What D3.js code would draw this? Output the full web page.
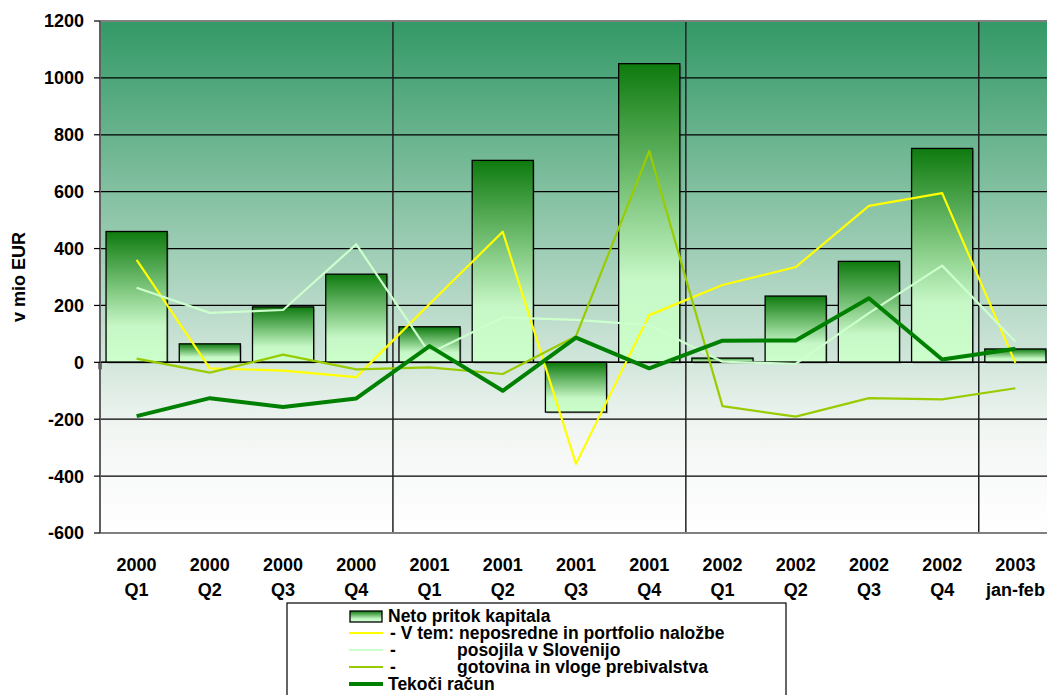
<!DOCTYPE html>
<html>
<head>
<meta charset="utf-8">
<script src="https://cdn.jsdelivr.net/npm/d3@7"></script>
<style>
  body { margin: 0; background: #fff; }
  text { font-family: "Liberation Sans", Arial, sans-serif; font-weight: bold; fill: #000; }
</style>
</head>
<body>
<svg id="chart" width="1047" height="695"></svg>
<script>
// categories (two-line labels)
var years = ["2000", "2000", "2000", "2000", "2001", "2001", "2001", "2001", "2002", "2002", "2002", "2002", "2003"];
var periods = ["Q1", "Q2", "Q3", "Q4", "Q1", "Q2", "Q3", "Q4", "Q1", "Q2", "Q3", "Q4", "jan-feb"];

// series, mio EUR
var netoPritok = [460, 65, 195, 310, 125, 710, -175, 1050, 15, 233, 355, 752, 47];
var neposredne = [360, -21, -29, -52, 205, 459, -357, 166, 272, 335, 550, 595, -2];
var posojila = [262, 174, 184, 415, 32, 158, 149, 131, 2, -5, 173, 340, 72];
var gotovina = [13, -36, 27, -25, -18, -41, 92, 743, -154, -191, -126, -130, -91];
var tekoci = [-189, -126, -157, -127, 57, -100, 87, -21, 76, 77, 225, 10, 48];

var yTicks = [-600, -400, -200, 0, 200, 400, 600, 800, 1000, 1200];
var yearBreaks = [4, 8, 12];

var svg = d3.select("#chart");
var plotL = 100, plotR = 1052, plotT = 21, plotB = 533;
var keys = years.map(function(d, i) { return i; });

var x = d3.scaleBand().domain(keys).range([plotL, plotR]).paddingInner(0.165).paddingOuter(0.0825);
var y = d3.scaleLinear().domain([-600, 1200]).range([plotB, plotT]);

var defs = svg.append("defs");
var bg = defs.append("linearGradient").attr("id", "bgGrad").attr("x1", 0).attr("y1", 0).attr("x2", 0).attr("y2", 1);
bg.append("stop").attr("offset", "0").attr("stop-color", "#339966");
bg.append("stop").attr("offset", "0.8").attr("stop-color", "#f2f6f3");
bg.append("stop").attr("offset", "1").attr("stop-color", "#ffffff");

var barGrad = defs.append("linearGradient").attr("id", "barGrad").attr("x1", 0).attr("y1", 0).attr("x2", 0).attr("y2", 1);
barGrad.append("stop").attr("offset", "0").attr("stop-color", "#0e7a0e");
barGrad.append("stop").attr("offset", "0.72").attr("stop-color", "#c6f7c6");
barGrad.append("stop").attr("offset", "1").attr("stop-color", "#ccffcc");

// plot area
svg.append("rect").attr("x", plotL).attr("y", plotT).attr("width", plotR - plotL).attr("height", plotB - plotT)
  .attr("fill", "url(#bgGrad)");

// horizontal grid
svg.append("g").selectAll("line").data(yTicks.filter(function(d) { return d > -600 && d < 1200; }))
  .join("line")
  .attr("x1", plotL).attr("x2", plotR)
  .attr("y1", function(d) { return y(d); }).attr("y2", function(d) { return y(d); })
  .attr("stroke", "#000").attr("stroke-width", 1.2);

// vertical year separators
svg.append("g").selectAll("line").data(yearBreaks).join("line")
  .attr("x1", function(d) { return plotL + d * x.step(); }).attr("x2", function(d) { return plotL + d * x.step(); })
  .attr("y1", plotT).attr("y2", plotB)
  .attr("stroke", "#222").attr("stroke-width", 1.5);

// plot border top / bottom
svg.append("line").attr("x1", plotL).attr("x2", plotR).attr("y1", plotT).attr("y2", plotT).attr("stroke", "#808080").attr("stroke-width", 2);
svg.append("line").attr("x1", plotL).attr("x2", plotR).attr("y1", plotB).attr("y2", plotB).attr("stroke", "#808080").attr("stroke-width", 2);

// bars
var bars = svg.append("g");
bars.selectAll("rect.shadow").data(netoPritok).join("rect").attr("class", "shadow")
  .attr("x", function(d, i) { return x(i) + 1.5; })
  .attr("y", function(d) { return Math.min(y(d), y(0)) + 1.5; })
  .attr("width", x.bandwidth())
  .attr("height", function(d) { return Math.abs(y(d) - y(0)); })
  .attr("fill", "#000").attr("opacity", 0.18);
bars.selectAll("rect.bar").data(netoPritok).join("rect").attr("class", "bar")
  .attr("x", function(d, i) { return x(i); })
  .attr("y", function(d) { return Math.min(y(d), y(0)); })
  .attr("width", x.bandwidth())
  .attr("height", function(d) { return Math.abs(y(d) - y(0)); })
  .attr("fill", "url(#barGrad)").attr("stroke", "#000").attr("stroke-width", 1.3);

// zero line
svg.append("line").attr("x1", plotL).attr("x2", plotR).attr("y1", y(0)).attr("y2", y(0))
  .attr("stroke", "#000").attr("stroke-width", 1.5);
svg.append("line").attr("x1", plotL).attr("x2", plotL).attr("y1", y(0)).attr("y2", y(0) + 7)
  .attr("stroke", "#000").attr("stroke-width", 3);

// lines
var line = d3.line().x(function(d, i) { return x(i) + x.bandwidth() / 2; }).y(function(d) { return y(d); });
var series = [
  { values: neposredne, color: "#ffff00", width: 2.2 },
  { values: posojila, color: "#ccffcc", width: 2.2 },
  { values: gotovina, color: "#99cc00", width: 2.2 },
  { values: tekoci, color: "#008000", width: 4 }
];
series.forEach(function(s) {
  svg.append("path").attr("d", line(s.values)).attr("fill", "none")
    .attr("stroke", s.color).attr("stroke-width", s.width).attr("stroke-linejoin", "round");
});

// y axis
svg.append("line").attr("x1", plotL).attr("x2", plotL).attr("y1", plotT).attr("y2", plotB)
  .attr("stroke", "#606060").attr("stroke-width", 2);
var yAxis = svg.append("g");
yAxis.selectAll("line").data(yTicks).join("line")
  .attr("x1", plotL - 6).attr("x2", plotL).attr("y1", function(d) { return y(d); }).attr("y2", function(d) { return y(d); })
  .attr("stroke", "#000").attr("stroke-width", 1.2);
yAxis.selectAll("text").data(yTicks).join("text")
  .attr("x", 84).attr("y", function(d) { return y(d); }).attr("dy", "0.36em")
  .attr("text-anchor", "end").attr("font-size", 18)
  .text(function(d) { return d; });

svg.append("text").attr("transform", "translate(25,277) rotate(-90)")
  .attr("text-anchor", "middle").attr("font-size", 18).text("v mio EUR");

// category labels
var xl = svg.append("g");
xl.selectAll("text.yr").data(years).join("text").attr("class", "yr")
  .attr("x", function(d, i) { return x(i) + x.bandwidth() / 2; }).attr("y", 571)
  .attr("text-anchor", "middle").attr("font-size", 18).text(function(d) { return d; });
xl.selectAll("text.pr").data(periods).join("text").attr("class", "pr")
  .attr("x", function(d, i) { return x(i) + x.bandwidth() / 2; }).attr("y", 596)
  .attr("text-anchor", "middle").attr("font-size", 18).text(function(d) { return d; });

// legend
var lg = svg.append("g");
lg.append("rect").attr("x", 287).attr("y", 603).attr("width", 499).attr("height", 120)
  .attr("fill", "#fff").attr("stroke", "#000").attr("stroke-width", 1.2);
lg.append("rect").attr("x", 350).attr("y", 611).attr("width", 32).attr("height", 11)
  .attr("fill", "url(#barGrad)").attr("stroke", "#000").attr("stroke-width", 1.3);
lg.append("text").attr("x", 388).attr("y", 622).attr("font-size", 17.5).text("Neto pritok kapitala");

var legendLines = [
  { color: "#ffff00", width: 2.2, dash: "- V tem: neposredne in portfolio naložbe", rest: "" },
  { color: "#ccffcc", width: 2.2, dash: "-", rest: "posojila v Slovenijo" },
  { color: "#99cc00", width: 2.2, dash: "-", rest: "gotovina in vloge prebivalstva" },
  { color: "#008000", width: 4, dash: "Tekoči račun", rest: "" }
];
legendLines.forEach(function(l, i) {
  var by = 639 + i * 17;
  lg.append("line").attr("x1", 349).attr("x2", 383).attr("y1", by - 6).attr("y2", by - 6)
    .attr("stroke", l.color).attr("stroke-width", l.width);
  lg.append("text").attr("x", i === 3 ? 388 : 390).attr("y", by).attr("font-size", 17.5).text(l.dash);
  if (l.rest) lg.append("text").attr("x", 457).attr("y", by).attr("font-size", 17.5).text(l.rest);
});
</script>
</body>
</html>
